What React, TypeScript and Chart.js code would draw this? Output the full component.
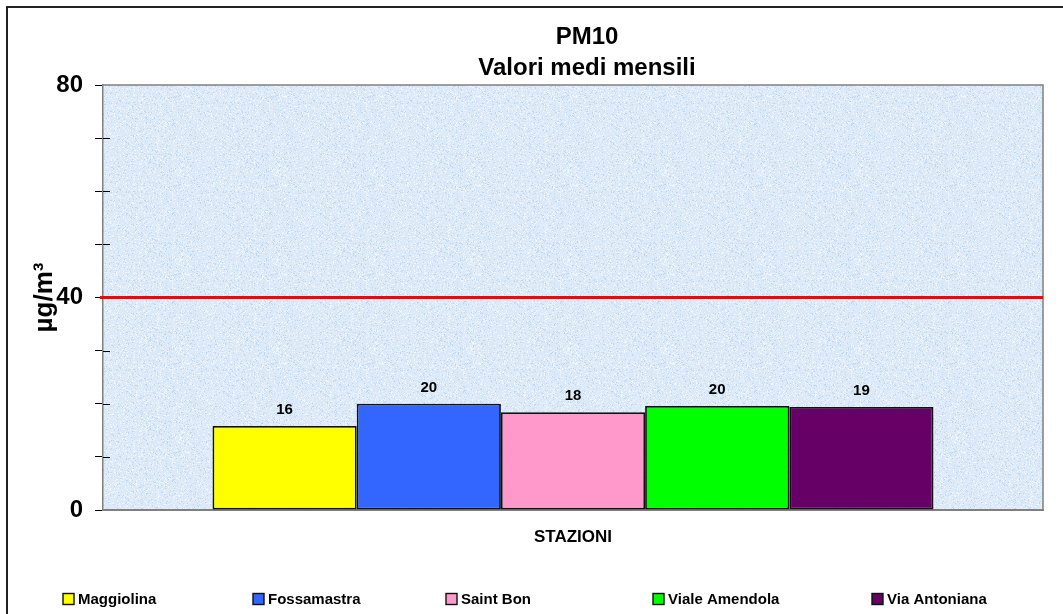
import { useEffect, useRef } from "react";
import { Chart, registerables } from "chart.js";

Chart.register(...registerables);

// ---------- data ----------
const TITLE_LINES = ["PM10", "Valori medi mensili"];
const Y_TITLE = "µg/m³";
const X_TITLE = "STAZIONI";
const CATEGORIES = [""];
const STATIONS = ["Maggiolina", "Fossamastra", "Saint Bon", "Viale Amendola", "Via Antoniana"];
const VALUES = [15.8, 20.0, 18.4, 19.6, 19.4];
const COLORS = ["#FFFF00", "#3366FF", "#FF99CC", "#00FF00", "#660066"];
const LIMIT = 40;
const Y_MIN = 0;
const Y_MAX = 80;
const Y_STEP = 10;
const Y_LABELED_TICKS = [0, 40, 80];

// ---------- layout ----------
const FONT = "Arial, 'Liberation Sans', Helvetica, sans-serif";
const LEGEND_X = [63, 253, 446, 653, 872];
const LEGEND_Y = 599;

function makePattern(ctx: CanvasRenderingContext2D) {
  const w = 97;
  const h = 89;
  const c = document.createElement("canvas");
  c.width = w;
  c.height = h;
  const g = c.getContext("2d")!;
  g.fillStyle = "#dae8f7";
  g.fillRect(0, 0, w, h);
  for (let y = 0; y < h; y++) {
    for (let x = 0; x < w; x++) {
      const s = Math.sin(x * 12.9898 + y * 78.233) * 43758.5453;
      const f = s - Math.floor(s);
      if (f > 0.68) {
        g.fillStyle = `rgba(255,255,255,${((f - 0.68) * 2.2).toFixed(3)})`;
        g.fillRect(x, y, 1, 1);
      } else if (f < 0.07) {
        g.fillStyle = "rgba(165,198,236,0.5)";
        g.fillRect(x, y, 1, 1);
      }
    }
  }
  return ctx.createPattern(c, "repeat");
}

const decorPlugin = {
  id: "decor",
  beforeDraw(chart: any) {
    const { ctx, chartArea } = chart;
    const W = chart.width;
    const H = chart.height;
    ctx.save();
    ctx.fillStyle = "#ffffff";
    ctx.fillRect(0, 0, W, H);
    // outer frame
    ctx.strokeStyle = "#222";
    ctx.lineWidth = 2;
    ctx.strokeRect(7, 7, W + 40, H + 40);
    // title
    ctx.fillStyle = "#000";
    ctx.font = `bold 24px ${FONT}`;
    ctx.textAlign = "center";
    ctx.textBaseline = "alphabetic";
    ctx.fillText(TITLE_LINES[0], 587, 44);
    ctx.fillText(TITLE_LINES[1], 587, 75);
    // plot background
    const pat = makePattern(ctx);
    ctx.fillStyle = pat || "#dae8f7";
    ctx.fillRect(chartArea.left, chartArea.top, chartArea.right - chartArea.left, chartArea.bottom - chartArea.top);
    // plot frame (top & right)
    ctx.strokeStyle = "#808080";
    ctx.lineWidth = 1.5;
    ctx.beginPath();
    ctx.moveTo(chartArea.left, chartArea.top);
    ctx.lineTo(chartArea.right, chartArea.top);
    ctx.lineTo(chartArea.right, chartArea.bottom);
    ctx.stroke();
    ctx.restore();
  },
  beforeDatasetsDraw(chart: any) {
    const { ctx, chartArea, scales } = chart;
    const y = scales.y.getPixelForValue(LIMIT);
    ctx.save();
    ctx.strokeStyle = "#FF0000";
    ctx.lineWidth = 3;
    ctx.beginPath();
    ctx.moveTo(chartArea.left - 3, y);
    ctx.lineTo(chartArea.right, y);
    ctx.stroke();
    // minor ticks crossing into plot
    ctx.strokeStyle = "#000";
    ctx.lineWidth = 1;
    for (let v = Y_MIN; v <= Y_MAX; v += Y_STEP) {
      if (Y_LABELED_TICKS.includes(v)) continue;
      const py = Math.round(scales.y.getPixelForValue(v)) + 0.5;
      ctx.beginPath();
      ctx.moveTo(chartArea.left, py);
      ctx.lineTo(chartArea.left + 7, py);
      ctx.stroke();
    }
    ctx.restore();
  },
  afterDatasetsDraw(chart: any) {
    const { ctx } = chart;
    ctx.save();
    // data labels
    ctx.fillStyle = "#000";
    ctx.font = `bold 15px ${FONT}`;
    ctx.textAlign = "center";
    ctx.textBaseline = "middle";
    chart.data.datasets.forEach((ds: any, i: number) => {
      const el = chart.getDatasetMeta(i).data[0];
      if (!el) return;
      ctx.fillText(String(Math.round(ds.data[0])), el.x, el.y - 16);
    });
    // legend
    ctx.font = `bold 15px ${FONT}`;
    ctx.textAlign = "left";
    const box = 11;
    const gapText = 4;
    chart.data.datasets.forEach((ds: any, i: number) => {
      const x = LEGEND_X[i];
      const cy = LEGEND_Y;
      ctx.fillStyle = ds.backgroundColor;
      ctx.fillRect(x, cy - box / 2, box, box);
      ctx.strokeStyle = "#111";
      ctx.lineWidth = 1.4;
      ctx.strokeRect(x, cy - box / 2, box, box);
      ctx.fillStyle = "#000";
      ctx.fillText(ds.label, x + box + gapText, cy + 1);
    });
    ctx.restore();
  },
};

export default function App() {
  const ref = useRef<HTMLCanvasElement | null>(null);

  useEffect(() => {
    if (!ref.current) return;
    const chart = new Chart(ref.current, {
      type: "bar",
      data: {
        labels: CATEGORIES,
        datasets: STATIONS.map((name, i) => ({
          label: name,
          data: [VALUES[i]],
          backgroundColor: COLORS[i],
          borderColor: "#111",
          borderWidth: 1.8,
          borderSkipped: false,
          categoryPercentage: 0.767,
          barPercentage: 1,
        })),
      },
      options: {
        responsive: false,
        animation: false,
        devicePixelRatio: 1,
        layout: { padding: { top: 85, right: 20, left: 0, bottom: 0 } },
        plugins: {
          legend: { display: false },
          title: { display: false },
          tooltip: { enabled: false },
        },
        scales: {
          x: {
            type: "category",
            grid: { display: false },
            ticks: { display: false },
            border: { display: true, color: "#808080", width: 2 },
            title: {
              display: true,
              text: X_TITLE,
              color: "#000",
              font: { family: FONT, size: 17, weight: "bold" },
              padding: { top: 0, bottom: 66 },
            },
            afterFit: (s: any) => {
              s.height = 104;
            },
          },
          y: {
            min: Y_MIN,
            max: Y_MAX,
            ticks: {
              stepSize: Y_STEP,
              color: "#000",
              padding: 12,
              font: { family: FONT, size: 24, weight: "bold" },
              callback: (v: any) => (Y_LABELED_TICKS.includes(Number(v)) ? String(v) : ""),
            },
            grid: {
              display: true,
              drawOnChartArea: false,
              drawTicks: true,
              tickLength: 8,
              color: "#000",
              lineWidth: 1,
            },
            border: { display: true, color: "#808080", width: 1.5 },
            title: {
              display: true,
              text: Y_TITLE,
              color: "#000",
              font: { family: FONT, size: 26, weight: "bold" },
              padding: { top: 29, bottom: 0 },
            },
            afterFit: (s: any) => {
              s.width = 103;
            },
          },
        },
      },
      plugins: [decorPlugin],
    });
    return () => chart.destroy();
  }, []);

  return (
    <div style={{ position: "fixed", left: 0, top: 0, width: 1063, height: 614, background: "#fff" }}>
      <canvas ref={ref} width={1063} height={614} style={{ display: "block" }} />
    </div>
  );
}
